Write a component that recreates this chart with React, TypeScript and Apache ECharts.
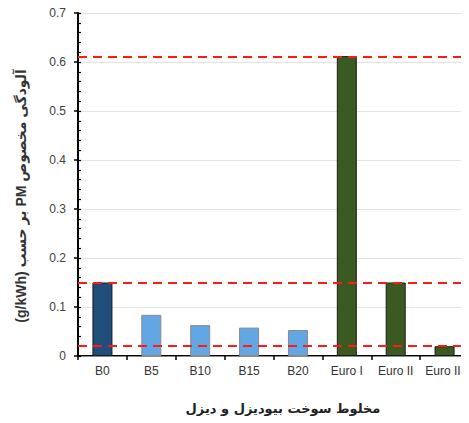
import React, { useEffect, useRef } from "react";
import * as echarts from "echarts";

// Fuel blends and emission standards on the category axis
const categories = ["B0", "B5", "B10", "B15", "B20", "Euro I", "Euro II", "Euro III"];
// Specific PM emission (g/kWh)
const pmValues = [0.15, 0.084, 0.063, 0.058, 0.053, 0.612, 0.15, 0.02];
// Reference limit levels drawn as dashed lines
const limitLevels = [0.612, 0.15, 0.02];
const yTicks = { min: 0, max: 0.7, interval: 0.1 };

const xTitle = "مخلوط سوخت بیودیزل و دیزل";
const yTitle = "آلودگی مخصوص PM بر حسب (g/kWh)";
// right-to-left embedding so the mixed Persian/Latin title lays out as RTL text
const rtl = (s: string) => "\u202B" + s + "\u202C";

const barStyle = (name: string) => {
  if (name === "B0") return { color: "#1f4e7b", borderColor: "#1a1a1a", borderWidth: 1 };
  if (name.startsWith("B")) return { color: "#62a6e4", borderColor: "#8a8a8a", borderWidth: 1 };
  return { color: "#3a5a22", borderColor: "#1a1a1a", borderWidth: 1 };
};

export default function App() {
  const ref = useRef<HTMLDivElement>(null);

  useEffect(() => {
    if (!ref.current) return;
    const chart = echarts.init(ref.current, null, { renderer: "svg" });
    const font = "Arial, 'Liberation Sans', 'DejaVu Sans', sans-serif";
    chart.setOption({
      animation: false,
      textStyle: { fontFamily: font },
      grid: { left: 78, right: 0, top: 13, bottom: 67, containLabel: false },
      xAxis: [
        {
          type: "category",
          data: categories,
          boundaryGap: true,
          axisLine: { lineStyle: { color: "#000", width: 2 } },
          axisTick: { show: true, length: 4, lineStyle: { color: "#000", width: 1.5 } },
          axisLabel: { color: "#333", fontSize: 12, margin: 9, interval: 0 },
        },
        {
          type: "category",
          data: categories,
          position: "top",
          axisLine: { lineStyle: { color: "#8c8c8c", width: 1.2 } },
          axisTick: { show: false },
          axisLabel: { show: false },
        },
      ],
      yAxis: [
        {
          type: "value",
          ...yTicks,
          axisLine: { show: true, lineStyle: { color: "#000", width: 2 } },
          axisTick: { show: true, length: 4, lineStyle: { color: "#000", width: 1.5 } },
          axisLabel: {
            color: "#404040",
            fontSize: 12,
            margin: 12,
            formatter: (v: number) => (v === 0 ? "0" : v.toFixed(1)),
          },
          splitLine: { show: true, lineStyle: { color: "#e3e3e3", width: 1 } },
        },
        {
          type: "value",
          ...yTicks,
          position: "left",
          axisLine: { show: false },
          axisTick: { show: true, inside: true, length: 3, lineStyle: { color: "#000", width: 1.2 } },
          minorTick: { show: true, splitNumber: 5, length: 3, lineStyle: { color: "#000", width: 1.2 } },
          axisLabel: { show: false },
          splitLine: { show: false },
        },
      ],
      graphic: [
        {
          type: "text",
          x: 283,
          y: 408,
          style: {
            text: xTitle,
            fontSize: 13,
            fontWeight: "bold",
            fill: "#222",
            align: "center",
            verticalAlign: "middle",
            fontFamily: "'DejaVu Sans', sans-serif",
          },
        },
        {
          type: "text",
          x: 21,
          y: 196,
          rotation: Math.PI / 2,
          style: {
            text: rtl(yTitle),
            fontSize: 14,
            fontWeight: "bold",
            fill: "#333",
            align: "center",
            verticalAlign: "middle",
            fontFamily: "'Liberation Sans', 'DejaVu Sans', sans-serif",
          },
        },
      ],
      series: [
        {
          type: "bar",
          barWidth: 20,
          data: pmValues.map((v, i) => ({ value: v, itemStyle: barStyle(categories[i]) })),
          markLine: {
            silent: true,
            symbol: ["none", "none"],
            label: { show: false },
            lineStyle: { color: "#ff1a1a", type: [9, 6], width: 2 },
            data: limitLevels.map((y) => ({ yAxis: y })),
          },
        },
      ],
    });
    return () => chart.dispose();
  }, []);

  return <div ref={ref} style={{ width: 469, height: 423, marginLeft: -8, marginTop: -8 }} />;
}
